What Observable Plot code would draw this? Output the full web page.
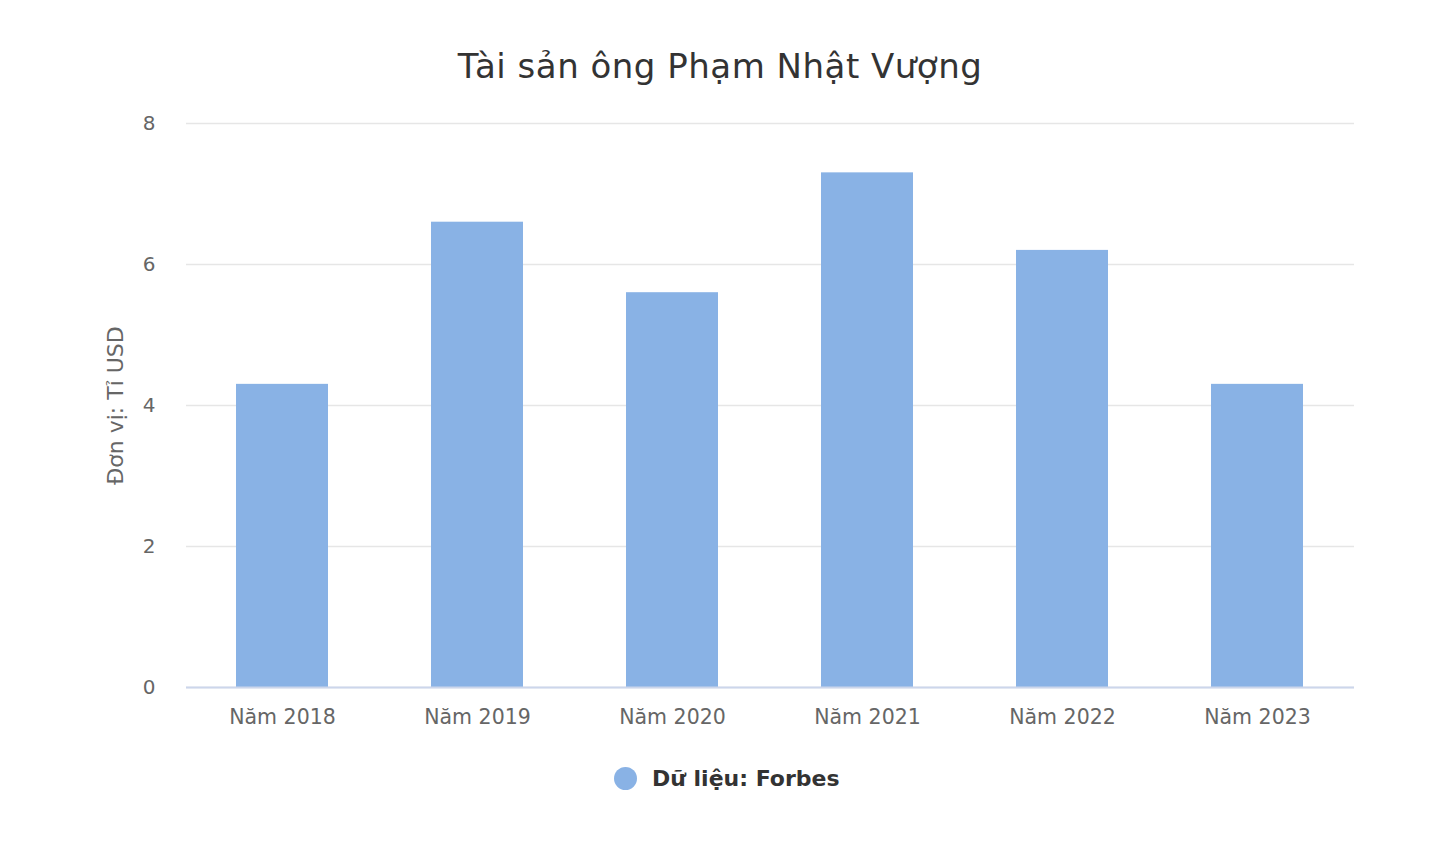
<!DOCTYPE html>
<html>
<head>
<meta charset="utf-8">
<script src="https://cdn.jsdelivr.net/npm/d3@7"></script>
<script src="https://cdn.jsdelivr.net/npm/@observablehq/plot@0.6"></script>
<style>
  body { margin: 0; background: #fff; font-family: "DejaVu Sans", sans-serif; }
  #wrap { position: relative; width: 1440px; height: 850px; }
  #title { position: absolute; top: 46px; left: 0; width: 1440px; text-align: center; font-size: 34px; color: #333; letter-spacing: 0.5px; }
  #chart { position: absolute; top: 100px; left: 0; }
  #legend { position: absolute; top: 766px; left: 614px; display: flex; align-items: center; font-size: 22px; font-weight: bold; color: #333; }
  #legend .dot { width: 23px; height: 23px; border-radius: 50%; background: #89b2e5; margin-right: 15px; }
</style>
</head>
<body>
<div id="wrap">
  <div id="title">Tài sản ông Phạm Nhật Vượng</div>
  <div id="chart"></div>
  <div id="legend"><span class="dot"></span><span>Dữ liệu: Forbes</span></div>
</div>
<script>
const years = ["Năm 2018", "Năm 2019", "Năm 2020", "Năm 2021", "Năm 2022", "Năm 2023"];
const values = [4.3, 6.6, 5.6, 7.3, 6.2, 4.3];
const yTicks = [0, 2, 4, 6, 8];
const yLabel = "Đơn vị: Tỉ USD";

const data = years.map((y, i) => ({year: y, value: values[i]}));

const chart = Plot.plot({
  width: 1440,
  height: 640,
  marginLeft: 186,
  marginRight: 86,
  marginTop: 23,
  marginBottom: 53,
  style: {fontFamily: "DejaVu Sans, sans-serif", fontSize: "20px", color: "#666"},
  x: {domain: years, paddingInner: 0.527, paddingOuter: 0.25, label: null},
  y: {domain: [0, 8], label: null},
  marks: [
    Plot.gridY(yTicks, {stroke: "#e6e6e6", strokeOpacity: 1, strokeWidth: 1.5}),
    Plot.barY(data, {x: "year", y: "value", fill: "#89b2e5"}),
    Plot.ruleY([0], {stroke: "#ccd6eb", strokeWidth: 2}),
    Plot.axisY(yTicks, {tickSize: 0, tickPadding: 31, fill: "#666", fontSize: 20, tickFormat: d => String(d), label: null}),
    Plot.axisX({tickSize: 0, tickPadding: 22, fill: "#666", fontSize: 20.5, label: null}),
    Plot.text([yLabel], {frameAnchor: "left", dx: -71, rotate: -90, textAnchor: "middle", fill: "#666", fontSize: 22})
  ]
});
document.getElementById("chart").appendChild(chart);
</script>
</body>
</html>
